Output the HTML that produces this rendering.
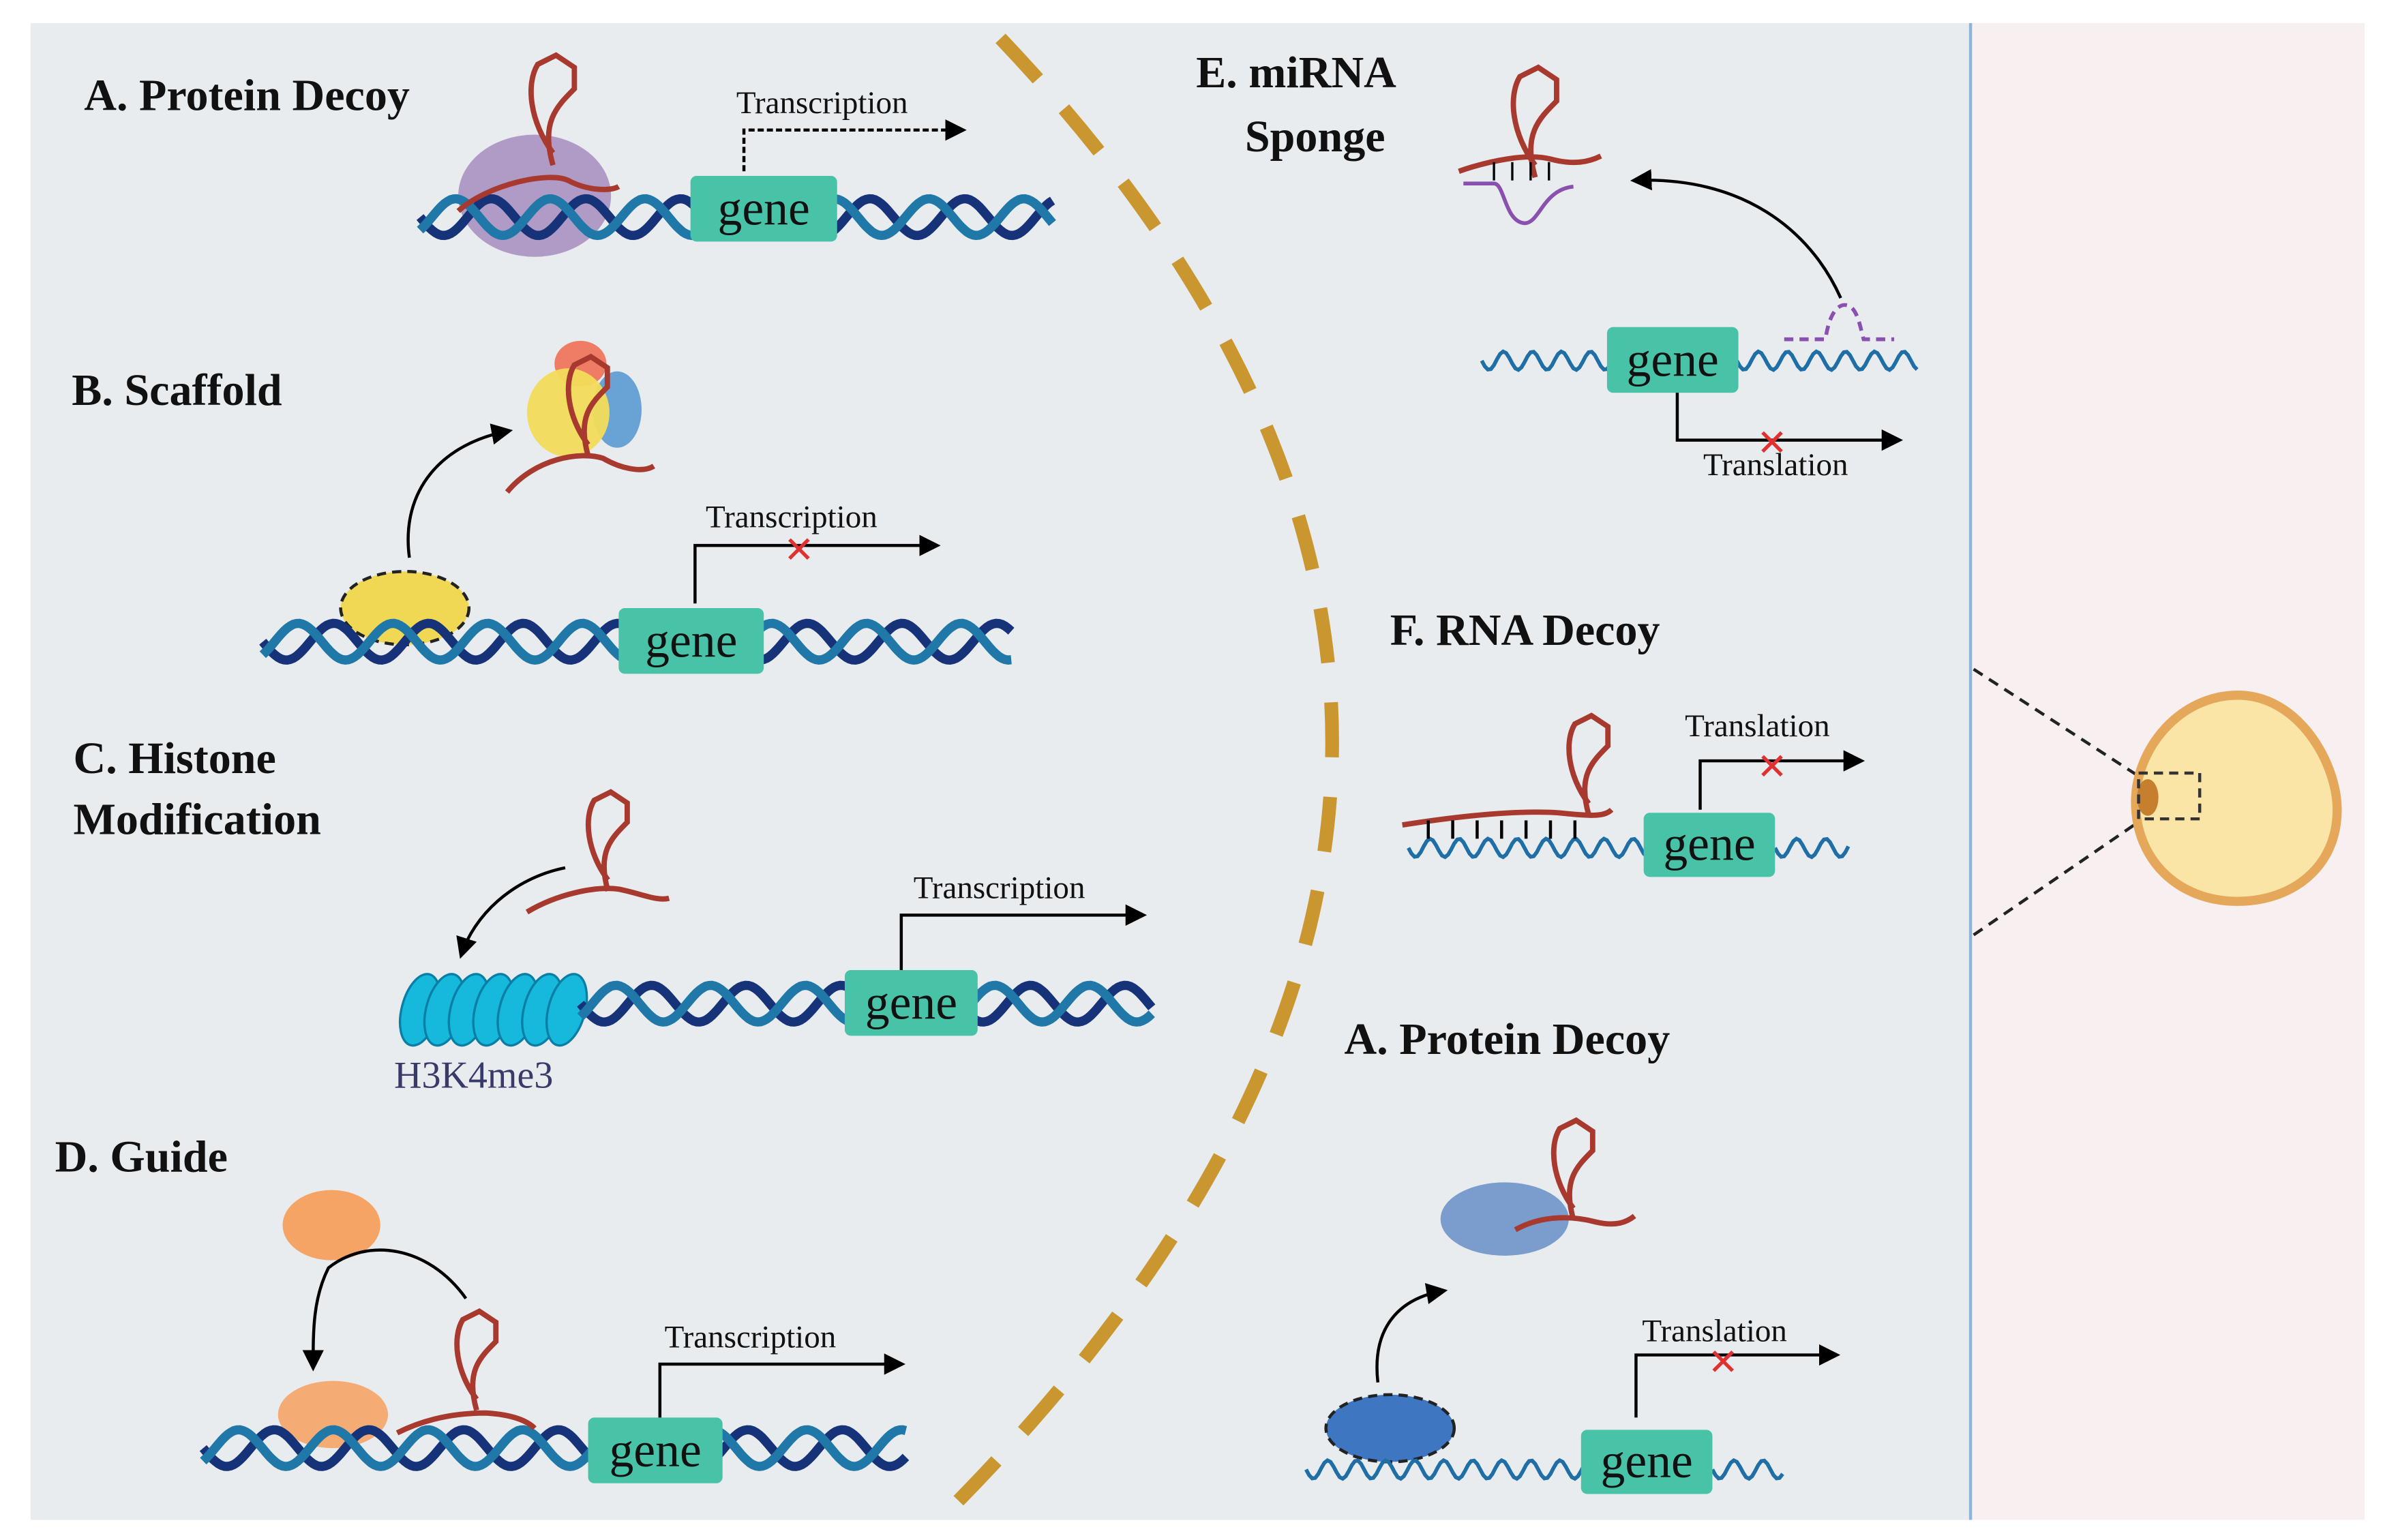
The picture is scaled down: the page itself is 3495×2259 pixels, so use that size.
<!DOCTYPE html>
<html><head><meta charset="utf-8"><style>
html,body{margin:0;padding:0;background:#fff}
svg{display:block}
.lab{font-family:"Liberation Serif",serif;font-weight:bold;font-size:29.5px;fill:#111}
.t{font-family:"Liberation Serif",serif;font-size:21px;fill:#111}
.g{font-family:"Liberation Serif",serif;font-size:32px;fill:#111}
</style></head><body>
<svg id="s" width="3495" height="2259" viewBox="0 0 1560 1008" xmlns="http://www.w3.org/2000/svg">
<defs><marker id="ar2" viewBox="0 0 10 10" refX="8" refY="5" markerWidth="7" markerHeight="7" orient="auto"><path d="M0,0L10,5L0,10z" fill="#000"/></marker></defs>
<rect x="0" y="0" width="1560" height="1008" fill="#fff"/>
<rect x="20" y="15" width="1270" height="980" fill="#e9ecef"/>
<rect x="1290" y="15" width="258" height="980" fill="#f8f0f0"/>
<line x1="1290" y1="15" x2="1290" y2="995" stroke="#8fb4dc" stroke-width="2"/>
<path d="M655,25 Q1106,500 620,990" fill="none" stroke="#c9962f" stroke-width="9" stroke-dasharray="36,26"/>
<g id="dyn"></g>
<line x1="1292" y1="438" x2="1400" y2="508" stroke="#222" stroke-width="2" stroke-dasharray="7,5"/>
<line x1="1292" y1="612" x2="1400" y2="538" stroke="#222" stroke-width="2" stroke-dasharray="7,5"/>
<path d="M1465,455 C1505,455 1530,500 1530,530 C1530,568 1500,590 1465,590 C1425,590 1398,562 1398,525 C1398,490 1427,455 1465,455Z" fill="#fbe5a6" stroke="#e5a85b" stroke-width="6"/>
<ellipse cx="1406" cy="522" rx="7" ry="12" fill="#c57f2e"/>
<rect x="1400" y="506" width="40" height="30" fill="none" stroke="#333" stroke-width="2" stroke-dasharray="6,4"/>
<text class="lab" x="55" y="72">A.  Protein Decoy</text>
<text class="lab" x="47" y="265">B. Scaffold</text>
<text class="lab" x="48" y="506">C. Histone</text>
<text class="lab" x="48" y="546">Modification</text>
<text class="lab" x="36" y="767">D. Guide</text>
<text class="lab" x="783" y="57">E. miRNA</text>
<text class="lab" x="815" y="99">Sponge</text>
<text class="lab" x="910" y="422">F. RNA Decoy</text>
<text class="lab" x="880" y="690">A.  Protein Decoy</text>
</svg>
<script>
var NS="http://www.w3.org/2000/svg",G=document.getElementById("dyn");
function el(t,a,txt){var e=document.createElementNS(NS,t);for(var k in a)e.setAttribute(k,a[k]);if(txt)e.textContent=txt;G.appendChild(e);return e;}
function wave(x0,x1,y,amp,per,ph){var d="",n=Math.ceil((x1-x0));for(var i=0;i<=n;i+=2){var x=x0+i;var yy=y+amp*Math.sin((i/per)*2*Math.PI+ph);d+=(i?"L":"M")+x.toFixed(1)+","+yy.toFixed(1);}return d;}
function helix(x0,x1,y){el("path",{d:wave(x0,x1,y,12,62,0),fill:"none",stroke:"#16337a","stroke-width":6});el("path",{d:wave(x0,x1,y,12,62,Math.PI*0.75),fill:"none",stroke:"#1f78a8","stroke-width":6});}
function thin(x0,x1,y){el("path",{d:wave(x0,x1,y,6,19,0),fill:"none",stroke:"#1f6ea5","stroke-width":2.5});}
function gene(x,y,w,h){el("rect",{x:x,y:y,width:w,height:h,rx:4,fill:"#48c3a7"});el("text",{class:"g",x:x+w/2,y:y+h-11,"text-anchor":"middle"},"gene");}
function loop(cx,cy,s){s=s||1;el("path",{d:"M"+cx+","+(cy+40*s)+" C"+(cx-15*s)+","+(cy+20*s)+" "+(cx-18*s)+","+(cy-5*s)+" "+(cx-10*s)+","+(cy-18*s)+" L"+(cx+2*s)+","+(cy-24*s)+" L"+(cx+14*s)+","+(cy-16*s)+" L"+(cx+14*s)+","+(cy-2*s)+" C"+(cx+2*s)+","+(cy+10*s)+" "+(cx-8*s)+","+(cy+20*s)+" "+cx+","+(cy+48*s),fill:"none",stroke:"#a8392f","stroke-width":3.5});}
function arrowUp(x,yb,yt,xr,dash){el("path",{d:"M"+x+","+yb+" L"+x+","+yt+" L"+xr+","+yt,fill:"none",stroke:"#000","stroke-width":2,"stroke-dasharray":dash?"4,2":"none","marker-end":"url(#ar2)"});}
function X(x,y){el("text",{x:x,y:y,"font-family":"Liberation Sans,sans-serif","font-size":24,fill:"#e03030","text-anchor":"middle"},"✕");}
function T(x,y,s){el("text",{class:"t",x:x,y:y},s);}
el("ellipse",{cx:350,cy:128,rx:50,ry:40,fill:"#9c80b8",opacity:.75});
helix(275,690,142);
loop(362,60);
el("path",{d:"M300,138 C320,120 360,112 372,118 C385,125 400,125 405,122",fill:"none",stroke:"#a8392f","stroke-width":3.5});
gene(452,115,96,43);
T(482,74,"Transcription");arrowUp(487,112,85,630,true);
el("ellipse",{cx:265,cy:398,rx:42,ry:24,fill:"#f0d855",stroke:"#222","stroke-width":2,"stroke-dasharray":"6,4"});
helix(172,663,420);
el("path",{d:"M268,365 C262,320 290,290 333,282",fill:"none",stroke:"#000","stroke-width":2,"marker-end":"url(#ar2)"});
el("ellipse",{cx:380,cy:238,rx:17,ry:15,fill:"#f07055",opacity:.9});
el("ellipse",{cx:404,cy:268,rx:16,ry:25,fill:"#5b9ad0",opacity:.9});
el("ellipse",{cx:372,cy:270,rx:27,ry:29,fill:"#f2dc5a",opacity:.95});
loop(385,255,0.9);
el("path",{d:"M332,322 C350,300 380,295 395,300 C405,306 420,310 428,305",fill:"none",stroke:"#a8392f","stroke-width":3.5});
gene(405,398,95,43);
T(462,345,"Transcription");arrowUp(455,395,357,613);X(523,368);
for(var i=0;i<7;i++){el("ellipse",{cx:275+i*16,cy:661,rx:12,ry:24,fill:"#16b8dc",stroke:"#0a7fa5","stroke-width":1.5,transform:"rotate(15 "+(275+i*16)+" 661)"});}
helix(380,755,657);
el("text",{x:258,y:712,"font-family":"Liberation Serif,serif","font-size":25,fill:"#3a3a6a"},"H3K4me3");
loop(398,540,0.9);
el("path",{d:"M345,597 C365,585 390,580 405,582 C420,585 430,590 438,588",fill:"none",stroke:"#a8392f","stroke-width":3.5});
el("path",{d:"M370,568 C335,575 310,600 302,625",fill:"none",stroke:"#000","stroke-width":2,"marker-end":"url(#ar2)"});
gene(553,635,87,43);
T(598,588,"Transcription");arrowUp(590,635,599,748);
el("ellipse",{cx:217,cy:802,rx:32,ry:23,fill:"#f5a466"});
el("ellipse",{cx:218,cy:926,rx:36,ry:22,fill:"#f5a466",opacity:.9});
helix(133,594,948);
el("path",{d:"M305,850 C280,815 240,810 215,830 C205,850 205,870 205,895",fill:"none",stroke:"#000","stroke-width":2,"marker-end":"url(#ar2)"});
loop(312,880,0.9);
el("path",{d:"M260,938 C280,928 300,925 318,925 C335,926 345,930 350,935",fill:"none",stroke:"#a8392f","stroke-width":3.5});
gene(385,928,88,43);
T(435,882,"Transcription");arrowUp(432,928,893,590);
loop(1005,68,1);
el("path",{d:"M955,112 C975,105 1000,100 1015,104 C1030,108 1040,106 1048,102",fill:"none",stroke:"#a8392f","stroke-width":3.5});
el("path",{d:"M958,120 L978,120 C985,120 985,145 998,146 C1008,146 1010,124 1030,122",fill:"none",stroke:"#8a50b0","stroke-width":2.5});
for(var i=0;i<4;i++)el("line",{x1:978+i*12,y1:106,x2:978+i*12,y2:118,stroke:"#000","stroke-width":1.5});
el("path",{d:"M1205,195 C1185,150 1140,115 1070,118",fill:"none",stroke:"#000","stroke-width":2,"marker-end":"url(#ar2)"});
thin(970,1055,236);thin(1137,1255,236);
el("path",{d:"M1168,222 L1195,222 C1198,202 1205,198 1210,200 C1216,202 1218,215 1220,222 L1240,222",fill:"none",stroke:"#8a50b0","stroke-width":2.5,"stroke-dasharray":"6,4"});
gene(1052,214,86,43);
el("path",{d:"M1098,257 L1098,288 L1243,288",fill:"none",stroke:"#000","stroke-width":2,"marker-end":"url(#ar2)"});
T(1115,311,"Translation");X(1160,298);
thin(922,1078,555);thin(1162,1210,555);
el("path",{d:"M918,540 C950,535 990,530 1020,532 C1040,534 1050,535 1055,530",fill:"none",stroke:"#a8392f","stroke-width":3.5});
loop(1040,490,0.9);
for(var i=0;i<7;i++)el("line",{x1:935+i*16,y1:537,x2:935+i*16,y2:549,stroke:"#000","stroke-width":2});
gene(1076,532,86,42);
T(1103,482,"Translation");arrowUp(1113,530,498,1218);X(1160,510);
el("ellipse",{cx:985,cy:798,rx:42,ry:24,fill:"#6f95c9",opacity:.9});
loop(1030,755,0.9);
el("path",{d:"M992,805 C1010,795 1030,796 1045,800 C1058,803 1065,800 1070,796",fill:"none",stroke:"#a8392f","stroke-width":3.5});
el("ellipse",{cx:910,cy:935,rx:42,ry:22,fill:"#3e76c2",stroke:"#222","stroke-width":2,"stroke-dasharray":"6,4"});
el("path",{d:"M902,905 C898,870 915,850 945,845",fill:"none",stroke:"#000","stroke-width":2,"marker-end":"url(#ar2)"});
thin(855,1037,962);thin(1121,1168,962);
gene(1035,936,86,42);
T(1075,878,"Translation");arrowUp(1071,928,887,1202);X(1128,900);
</script>
</body></html>
